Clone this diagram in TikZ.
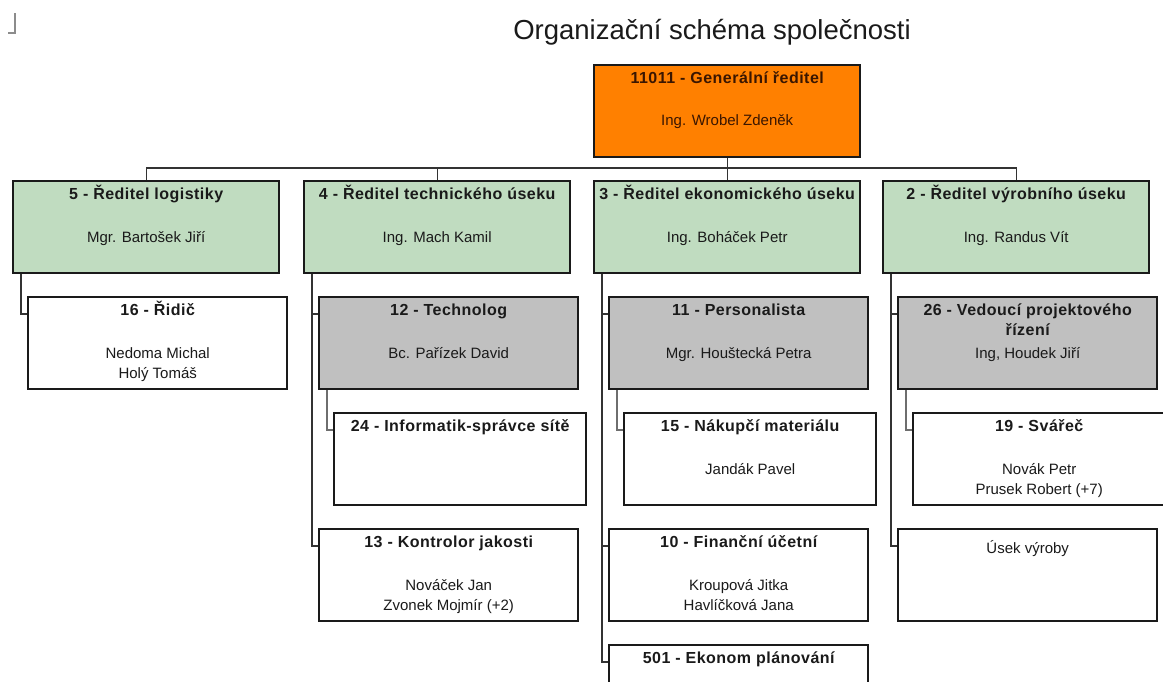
\documentclass[tikz,border=0pt]{standalone}
\usepackage{fontspec}
\setmainfont{Liberation Sans}
\newfontfamily\orgtitlefont{Liberation Sans}[LetterSpace=3]
\usetikzlibrary{calc}

\definecolor{orgorange}{HTML}{FF8000}
\definecolor{orggreen}{HTML}{C0DCC0}
\definecolor{orggray}{HTML}{C0C0C0}
\definecolor{orgline}{HTML}{1A1A1A}
\definecolor{orgconn}{HTML}{333333}
\definecolor{orgsub}{HTML}{6E6E6E}
\definecolor{orgtext}{HTML}{1A1A1A}
\definecolor{orgbrown}{HTML}{3A1600}
\definecolor{orgmark}{HTML}{8C8C8C}

\tikzset{
  unitbox/.style={draw=orgline, line width=2.4pt, rectangle, inner sep=0pt,
                  minimum height=92pt, anchor=north west},
  chief/.style={unitbox, fill=orgorange, minimum width=266pt},
  director/.style={unitbox, fill=orggreen, minimum width=266pt},
  headbox/.style={unitbox, fill=orggray, minimum width=259pt},
  staffbox/.style={unitbox, fill=white, minimum width=259pt},
  subbox/.style={unitbox, fill=white, minimum width=252pt},
  role/.style={anchor=base, inner sep=0pt, text=orgtext,
               font=\orgtitlefont\bfseries\fontsize{16}{19}\selectfont},
  person/.style={anchor=base, inner sep=0pt, text=orgtext,
                 font=\fontsize{15}{18}\selectfont},
  link/.style={draw=orgconn, line width=1.4pt},
  sublink/.style={draw=orgsub, line width=1.4pt},
}

% text lines inside a unit box
\newcommand\orgrole[2]{\node[role] (#1-role) at ([yshift=-19.5pt]#1.north) {#2};}
\newcommand\orgroletwo[3]{\orgrole{#1}{#2}\node[role] (#1-role2) at ([yshift=-39pt]#1.north) {#3};}
\newcommand\orgperson[2]{\node[person] (#1-p1) at ([yshift=-62pt]#1.north) {#2};}
\newcommand\orgpersons[3]{\orgperson{#1}{#2}\node[person] (#1-p2) at ([yshift=-82pt]#1.north) {#3};}

\begin{document}
\begin{tikzpicture}[x=1pt, y=-1pt]
\useasboundingbox (0,0) rectangle (1163,682);
\clip (0,0) rectangle (1163,682);
\fill[white] (0,0) rectangle (1163,682);

% corner mark
\draw[draw=orgmark, line width=2.2pt] (8,33) -- (15,33) -- (15,13);

% heading
\node[anchor=base, inner sep=0pt, text=orgtext, font=\fontsize{27.5}{33}\selectfont]
  (heading) at (712,40) {Organizační schéma společnosti};

% level 0
\node[chief] (top) at (593,64) {};
% level 1
\node[director] (A) at (12,180) {};
\node[director] (B) at (303,180) {};
\node[director] (C) at (593,180) {};
\node[director] (D) at (882,180) {};
% level 2 and below
\node[staffbox] (A1) at (27,296) {};
\node[headbox]  (B1) at (318,296) {};
\node[headbox]  (C1) at (608,296) {};
\node[headbox]  (D1) at (897,296) {};
\node[subbox]   (B11) at (333,412) {};
\node[subbox]   (C11) at (623,412) {};
\node[subbox]   (D11) at (912,412) {};
\node[staffbox] (B2) at (318,528) {};
\node[staffbox] (C2) at (608,528) {};
\node[staffbox] (D2) at (897,528) {};
\node[staffbox] (C3) at (608,644) {};

% connectors from the top
\draw[link] (top.south) -- (C.north);
\draw[link] (A.north) -- ++(0,12pt) -| (D.north);
\draw[link] (B.north) -- ++(0,12pt);

% column connectors
\draw[link] ([xshift=9pt]A.south west) |- ([yshift=-18pt]A1.north west);
\draw[link] ([xshift=9pt]B.south west) |- ([yshift=-18pt]B1.north west);
\draw[link] ([xshift=9pt]B.south west) |- ([yshift=-18pt]B2.north west);
\draw[link] ([xshift=9pt]C.south west) |- ([yshift=-18pt]C1.north west);
\draw[link] ([xshift=9pt]C.south west) |- ([yshift=-18pt]C2.north west);
\draw[link] ([xshift=9pt]C.south west) |- ([yshift=-18pt]C3.north west);
\draw[link] ([xshift=9pt]D.south west) |- ([yshift=-18pt]D1.north west);
\draw[link] ([xshift=9pt]D.south west) |- ([yshift=-18pt]D2.north west);
\draw[sublink] ([xshift=9pt]B1.south west) |- ([yshift=-18pt]B11.north west);
\draw[sublink] ([xshift=9pt]C1.south west) |- ([yshift=-18pt]C11.north west);
\draw[sublink] ([xshift=9pt]D1.south west) |- ([yshift=-18pt]D11.north west);

% texts
\begin{scope}[role/.append style={text=orgbrown}, person/.append style={text=orgbrown}]
\orgrole{top}{11011 - Generální ředitel}
\orgperson{top}{Ing. Wrobel Zdeněk}
\end{scope}

\orgrole{A}{5 - Ředitel logistiky}
\orgperson{A}{Mgr. Bartošek Jiří}
\orgrole{B}{4 - Ředitel technického úseku}
\orgperson{B}{Ing. Mach Kamil}
\orgrole{C}{3 - Ředitel ekonomického úseku}
\orgperson{C}{Ing. Boháček Petr}
\orgrole{D}{2 - Ředitel výrobního úseku}
\orgperson{D}{Ing. Randus Vít}

\orgrole{A1}{16 - Řidič}
\orgpersons{A1}{Nedoma Michal}{Holý Tomáš}
\orgrole{B1}{12 - Technolog}
\orgperson{B1}{Bc. Pařízek David}
\orgrole{B11}{24 - Informatik-správce sítě}
\orgrole{B2}{13 - Kontrolor jakosti}
\orgpersons{B2}{Nováček Jan}{Zvonek Mojmír (+2)}

\orgrole{C1}{11 - Personalista}
\orgperson{C1}{Mgr. Houštecká Petra}
\orgrole{C11}{15 - Nákupčí materiálu}
\orgperson{C11}{Jandák Pavel}
\orgrole{C2}{10 - Finanční účetní}
\orgpersons{C2}{Kroupová Jitka}{Havlíčková Jana}
\orgrole{C3}{501 - Ekonom plánování}

\orgroletwo{D1}{26 - Vedoucí projektového}{řízení}
\orgperson{D1}{Ing, Houdek Jiří}
\orgrole{D11}{19 - Svářeč}
\orgpersons{D11}{Novák Petr}{Prusek Robert (+7)}
\node[person] (D2-p1) at ([yshift=-25pt]D2.north) {Úsek výroby};
\end{tikzpicture}
\end{document}
